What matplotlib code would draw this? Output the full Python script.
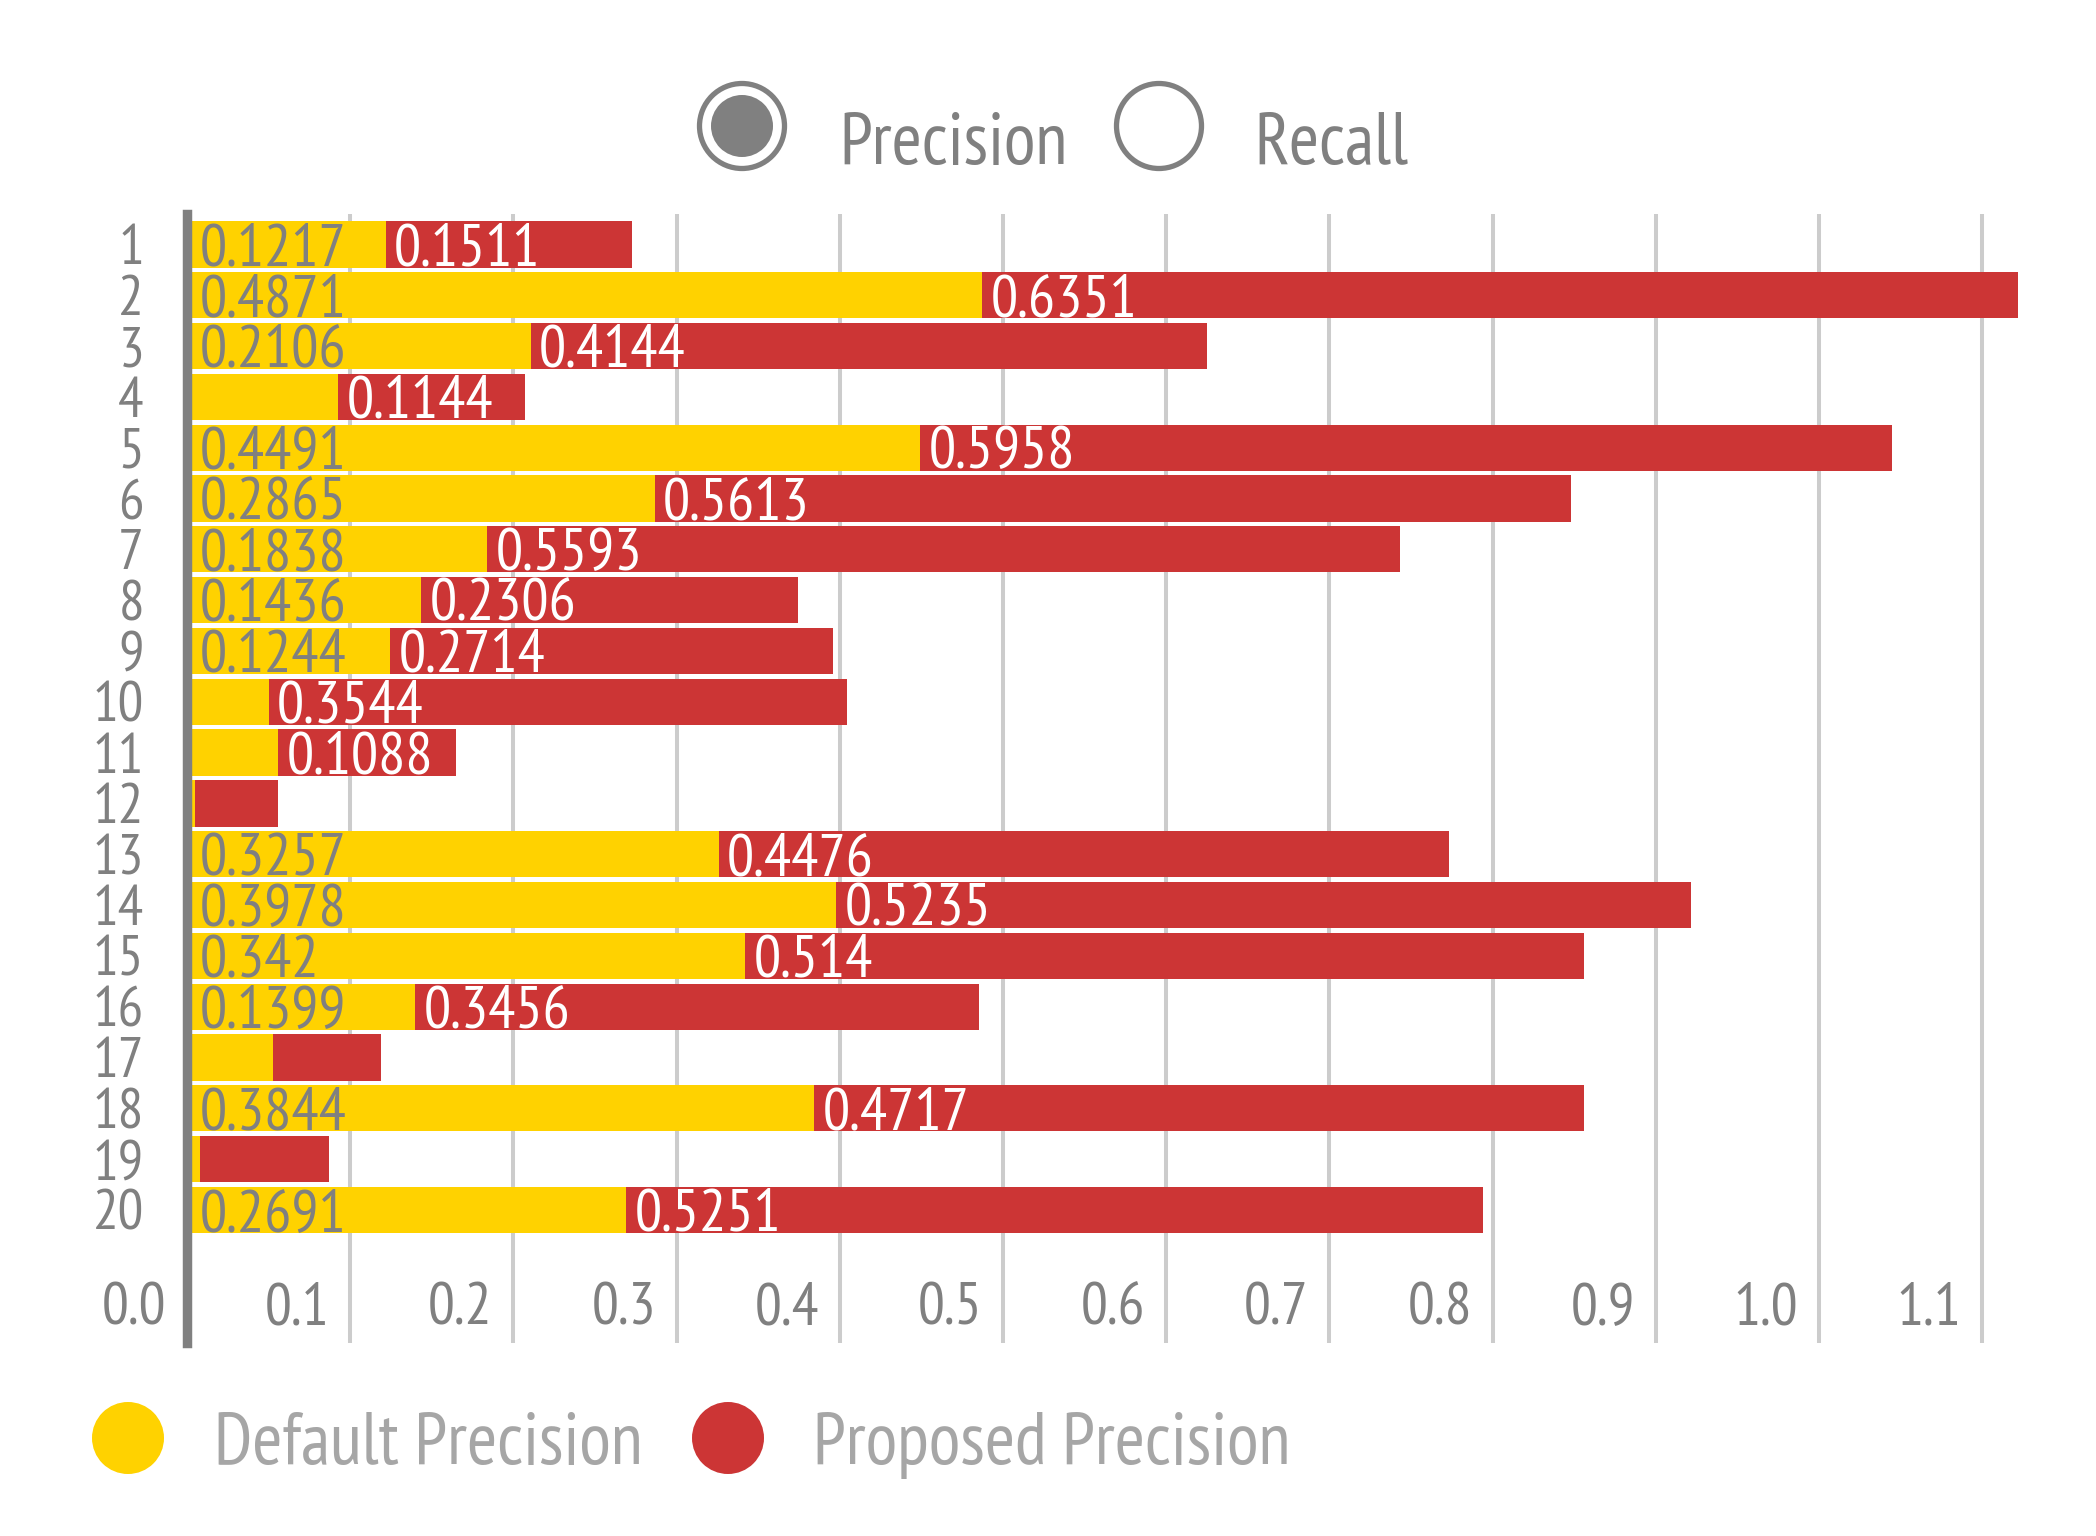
import matplotlib
matplotlib.use("Agg")
import matplotlib.pyplot as plt
from matplotlib import font_manager as fm
from matplotlib.patches import Circle

# ---------------- data ----------------
queries = [str(i) for i in range(1, 21)]
default_precision = [0.1217, 0.4871, 0.2106, 0.0926, 0.4491, 0.2865, 0.1838, 0.1436,
                     0.1244, 0.050, 0.056, 0.005, 0.3257, 0.3978, 0.342, 0.1399,
                     0.053, 0.3844, 0.008, 0.2691]
proposed_precision = [0.1511, 0.6351, 0.4144, 0.1144, 0.5958, 0.5613, 0.5593, 0.2306,
                      0.2714, 0.3544, 0.1088, 0.051, 0.4476, 0.5235, 0.514, 0.3456,
                      0.066, 0.4717, 0.079, 0.5251]
x_ticks = [0.0, 0.1, 0.2, 0.3, 0.4, 0.5, 0.6, 0.7, 0.8, 0.9, 1.0, 1.1]
x_tick_labels = ["0.0", "0.1", "0.2", "0.3", "0.4", "0.5", "0.6", "0.7", "0.8", "0.9", "1.0", "1.1"]
series_names = ["Default Precision", "Proposed Precision"]
toggle_names = ["Precision", "Recall"]

# ---------------- style ----------------
YELLOW = "#FFD200"
RED = "#CC3535"
GRAY = "#808080"
LIGHT = "#A6A6A6"
GRID = "#CCCCCC"

avail = {f.name for f in fm.fontManager.ttflist}
FONT = "DejaVu Sans"
STRETCH = "normal"
for cand in ["PT Sans Narrow", "Liberation Sans Narrow", "Roboto Condensed",
             "Open Sans Condensed", "Arial Narrow"]:
    if cand in avail:
        FONT = cand
        break
else:
    STRETCH = "condensed"
plt.rcParams["font.family"] = [FONT, "DejaVu Sans"]
plt.rcParams["font.stretch"] = STRETCH

W, H = 2096, 1536
DPI = 100
fig = plt.figure(figsize=(W / DPI, H / DPI), dpi=DPI)
fig.patch.set_facecolor("white")

# main axes: zero at x=187px, 1.0 at 1817px; top 214px, bottom 1343px
x0_px, unit_px = 187, 1632
xmax = 1.14
ax = fig.add_axes([x0_px / W, 1 - 1343 / H, xmax * unit_px / W, (1343 - 214) / H])
ax.set_xlim(0, xmax)
ax.set_ylim(22.62, 0.4)
for s in ax.spines.values():
    s.set_visible(False)
ax.set_facecolor("none")

ypos = list(range(1, len(queries) + 1))
bar_h = 0.91
ax.barh(ypos, default_precision, height=bar_h, color=YELLOW, zorder=2, linewidth=0)
ax.barh(ypos, proposed_precision, left=default_precision, height=bar_h, color=RED,
        zorder=2, linewidth=0)

# gridlines
ax.set_xticks(x_ticks)
ax.xaxis.set_ticklabels([])
ax.tick_params(axis="x", length=0)
for t in x_ticks[1:]:
    ax.axvline(t, color=GRID, lw=2.9, zorder=1)
ax.axvline(0, color=GRAY, lw=6.8, zorder=5, clip_on=False)

# y labels
ax.set_yticks(ypos)
ax.set_yticklabels(queries, fontsize=41, color=GRAY)
ax.tick_params(axis="y", length=0, pad=31)

# x tick labels drawn inside the axes, left of each gridline
for t, lab in zip(x_ticks, x_tick_labels):
    ax.annotate(lab, (t, 21.84 + 0.42), xytext=(-15, 0), textcoords="offset points",
                ha="right", va="baseline", fontsize=43, color=GRAY)

# value labels
for y, d, p in zip(ypos, default_precision, proposed_precision):
    if d >= 0.1:
        ax.annotate(f"{d:g}", (0, y + 0.41), xytext=(9, 0), textcoords="offset points",
                    ha="left", va="baseline", fontsize=43.5, color=GRAY, zorder=6)
    if p >= 0.1:
        ax.annotate(f"{p:g}", (d, y + 0.41), xytext=(6, 0), textcoords="offset points",
                    ha="left", va="baseline", fontsize=43.5, color="white", zorder=6)

# ---------------- overlay for legends (pixel coords) ----------------
ov = fig.add_axes([0, 0, 1, 1], zorder=-1)
ov.set_xlim(0, W)
ov.set_ylim(H, 0)
ov.axis("off")
ov.patch.set_visible(False)

# toggle (radio) legend on top
ov.add_patch(Circle((742, 126), 42.5, fill=False, ec=GRAY, lw=3.8))
ov.add_patch(Circle((742, 126), 31, fc=GRAY, ec="none"))
ov.text(839, 164, toggle_names[0], fontsize=52.5, color=GRAY, ha="left", va="baseline")
ov.add_patch(Circle((1159, 126), 42.5, fill=False, ec=GRAY, lw=3.8))
ov.text(1254, 164, toggle_names[1], fontsize=52.5, color=GRAY, ha="left", va="baseline")

# series legend at bottom
ov.add_patch(Circle((128, 1438), 36, fc=YELLOW, ec="none"))
ov.text(214, 1464, series_names[0], fontsize=52.5, color=LIGHT, ha="left", va="baseline")
ov.add_patch(Circle((728, 1438), 36, fc=RED, ec="none"))
ov.text(813, 1464, series_names[1], fontsize=52.5, color=LIGHT, ha="left", va="baseline")

fig.savefig("out.png", dpi=DPI, facecolor="white")
